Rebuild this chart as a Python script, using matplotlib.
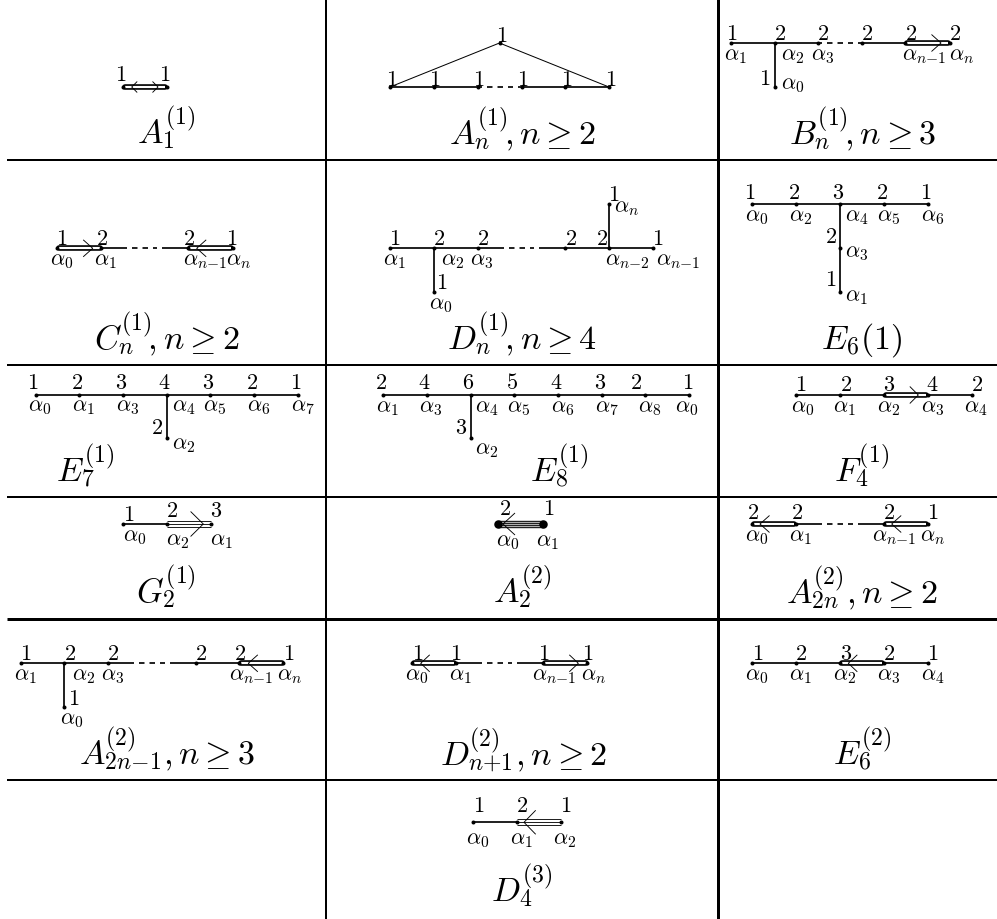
import matplotlib
matplotlib.use("Agg")
import matplotlib.pyplot as plt
from matplotlib import _mathtext

plt.rcParams['mathtext.fontset'] = 'cm'
plt.rcParams['font.family'] = ['DejaVu Sans']
# height of a lone superscript, as TeX sets it in these captions
_mathtext.ComputerModernFontConstants.sup1 = 0.64

PX = 0.72  # one pixel in points at dpi 100
MARK_SIZE = 16
CAPTION_SIZE = 24.5

# table rules
rule_rows = [160.5, 366, 497.7, 620, 781]
rule_row_widths = [2, 2, 2, 3, 2]
rule_cols = [326, 717.5]
rule_col_widths = [2, 3]

# every diagram: nodes (x, y), bonds (kind, i, j), arrows (tip x, tip y, direction, arm dx, arm dy),
# marks (text, x, y) above the nodes, roots (index, x, y) under the nodes
a11_nodes = [(123, 88), (167, 88)]
a11_bonds = [("double", 0, 1)]
a11_arrows = [(131.7, 88, -1, 5.5, 5.5), (158, 88, 1, 5.5, 5.5)]
a11_marks = [("1", 120.7, 74), ("1", 165, 74)]
a11_roots = []

an1_nodes = [(390, 88), (434, 88), (478, 88), (521.7, 88), (565.3, 88), (609, 88), (499.5, 44)]
an1_bonds = [("bold", 0, 1), ("bold", 1, 2), ("dash", 2, 3), ("bold", 3, 4), ("bold", 4, 5),
             ("thin", 0, 6), ("thin", 5, 6)]
an1_arrows = []
an1_marks = [("1", 392, 79), ("1", 435, 79), ("1", 479, 79), ("1", 523, 79), ("1", 567, 79),
             ("1", 611, 79), ("1", 502, 35)]
an1_roots = []

bn1_nodes = [(730.7, 44), (774.7, 44), (818.3, 44), (861.8, 44), (905.3, 44), (949.7, 44), (774.7, 88)]
bn1_bonds = [("bold", 0, 1), ("bold", 1, 2), ("dash", 2, 3), ("bold", 3, 4), ("double", 4, 5), ("bold", 1, 6)]
bn1_arrows = [(941, 44, 1, 9.5, 8.5)]
bn1_marks = [("1", 731.7, 33), ("2", 780, 33), ("2", 823, 33), ("2", 866.7, 33), ("2", 911, 33),
             ("2", 955, 33), ("1", 765, 78)]
bn1_roots = [("1", 735, 55), ("2", 793, 55), ("3", 822.7, 55), ("n-1", 924, 55), ("n", 962, 55), ("0", 793, 84)]

cn1_nodes = [(57.3, 249.3), (101.3, 249.3), (188.4, 249.3), (232.5, 249.3)]
cn1_bonds = [("double", 0, 1), ("broken", 1, 2), ("double", 2, 3)]
cn1_arrows = [(92.7, 249.3, 1, 9.5, 8.5), (196.7, 249.3, -1, 9.5, 8.5)]
cn1_marks = [("1", 62, 238), ("2", 101.7, 238), ("2", 189, 238), ("1", 232, 238)]
cn1_roots = [("0", 61.7, 260), ("1", 105, 260), ("n-1", 205, 260), ("n", 238.3, 260)]

dn1_nodes = [(390, 249.3), (434, 249.3), (478, 249.3), (565, 249.3), (609, 249.3), (653, 249.3),
             (434, 293), (609, 205)]
dn1_bonds = [("bold", 0, 1), ("bold", 1, 2), ("broken", 2, 3), ("bold", 3, 4), ("bold", 4, 5),
             ("bold", 1, 6), ("bold", 4, 7)]
dn1_arrows = []
dn1_marks = [("1", 395, 237.7), ("2", 439, 237.7), ("2", 483, 237.7), ("2", 570.7, 237.7), ("2", 602, 237.7),
             ("1", 658, 237.7), ("1", 614, 194), ("1", 442, 282)]
dn1_roots = [("1", 394, 260), ("2", 453, 260), ("3", 482, 260), ("n-2", 627, 260), ("n-1", 678, 260),
             ("n", 626.7, 207), ("0", 440.7, 304)]

e61_nodes = [(752.3, 205.3), (796, 205.3), (840, 205.3), (884, 205.3), (928, 205.3), (840, 249.3), (840, 293.3)]
e61_bonds = [("bold", 0, 1), ("bold", 1, 2), ("bold", 2, 3), ("bold", 3, 4), ("bold", 2, 5), ("bold", 5, 6)]
e61_arrows = []
e61_marks = [("1", 750, 191.7), ("2", 794.3, 191.7), ("3", 838.3, 191.7), ("2", 881.7, 191.7), ("1", 925.7, 191.7),
             ("2", 830.7, 236), ("1", 830.7, 279.3)]
e61_roots = [("0", 756.7, 216.7), ("2", 800.7, 216.7), ("4", 856.7, 216.7), ("5", 888.3, 216.7), ("6", 932.3, 216.7),
             ("3", 856.7, 252.7), ("1", 856.7, 296)]

e71_nodes = [(35.7, 396), (79, 396), (123, 396), (166.7, 396), (210.3, 396), (254, 396), (298.3, 396), (166.7, 439.3)]
e71_bonds = [("bold", 0, 1), ("bold", 1, 2), ("bold", 2, 3), ("bold", 3, 4), ("bold", 4, 5), ("bold", 5, 6), ("bold", 3, 7)]
e71_arrows = []
e71_marks = [("1", 32.7, 382.3), ("2", 77.3, 382.3), ("3", 120.7, 382.3), ("4", 164.7, 382.3), ("3", 208.3, 382.3),
             ("2", 252.3, 382.3), ("1", 296, 382.3), ("2", 157.3, 426.7)]
e71_roots = [("0", 40, 406.7), ("1", 83.3, 406.7), ("3", 127.3, 406.7), ("4", 183.3, 406.7), ("5", 215, 406.7),
             ("6", 258.3, 406.7), ("7", 302.7, 406.7), ("2", 183.3, 444)]

e81_nodes = [(382.7, 396), (426.7, 396), (470.7, 396), (514.3, 396), (558, 396), (601.7, 396), (645.3, 396),
             (689.3, 396), (470.7, 439)]
e81_bonds = [("bold", 0, 1), ("bold", 1, 2), ("bold", 2, 3), ("bold", 3, 4), ("bold", 4, 5), ("bold", 5, 6),
             ("bold", 6, 7), ("bold", 2, 8)]
e81_arrows = []
e81_marks = [("2", 381, 382.3), ("4", 424.3, 382.3), ("6", 468.3, 382.3), ("5", 512, 382.3), ("4", 556, 382.3),
             ("3", 599.7, 382.3), ("2", 636.3, 382.3), ("1", 687.7, 382.3), ("3", 461, 426.7)]
e81_roots = [("1", 387.3, 407), ("3", 431, 407), ("4", 486.7, 407), ("5", 518.7, 407), ("6", 562.7, 407),
             ("7", 606.7, 407), ("8", 650, 407), ("0", 686.7, 407), ("2", 486.7, 449.3)]

f41_nodes = [(796, 396), (840, 396), (884, 396), (928, 396), (972, 396)]
f41_bonds = [("bold", 0, 1), ("bold", 1, 2), ("double", 2, 3), ("bold", 3, 4)]
f41_arrows = [(918.3, 396, 1, 8.5, 8.5)]
f41_marks = [("1", 801, 384.3), ("2", 845.7, 384.3), ("3", 889.3, 384.3), ("4", 932.7, 384.3), ("2", 976.7, 384.3)]
f41_roots = [("0", 802.7, 407), ("1", 844.3, 407), ("2", 888.3, 407), ("3", 932.3, 407), ("4", 975.7, 407)]

g21_nodes = [(123, 525), (166.7, 525), (210.7, 525)]
g21_bonds = [("bold", 0, 1), ("triple", 1, 2)]
g21_arrows = [(203.3, 525, 1, 12.7, 12.5)]
g21_marks = [("1", 128.3, 514), ("2", 171.7, 510), ("3", 216, 510)]
g21_roots = [("0", 135, 536.7), ("2", 178, 540.7), ("1", 221.7, 540.7)]

a22_nodes = [(498, 525), (543, 525)]
a22_bonds = [("quad", 0, 1)]
a22_arrows = [(503, 525, -1, 12, 11)]
a22_marks = [("2", 505, 508), ("1", 548.7, 508)]
a22_roots = [("0", 508, 541), ("1", 547.7, 541)]

a2n2_nodes = [(752.3, 525), (796, 525), (884, 525), (928, 525)]
a2n2_bonds = [("double", 0, 1), ("broken", 1, 2), ("double", 2, 3)]
a2n2_arrows = [(760, 525, -1, 9.5, 8.5), (891.7, 525, -1, 9.5, 8.5)]
a2n2_marks = [("2", 753.3, 511.7), ("2", 796.7, 511.7), ("2", 889, 511.7), ("1", 932.3, 511.7)]
a2n2_roots = [("0", 756.7, 536), ("1", 800, 536), ("n-1", 894.3, 536), ("n", 933, 536)]

a2n12_nodes = [(20.7, 664.3), (64.3, 664.3), (108.3, 664.3), (195.7, 664.3), (239.3, 664.3), (283.3, 664.3), (64.3, 708.3)]
a2n12_bonds = [("bold", 0, 1), ("bold", 1, 2), ("broken", 2, 3), ("bold", 3, 4), ("double", 4, 5), ("bold", 1, 6)]
a2n12_arrows = [(248.3, 664.3, -1, 9.5, 8.5)]
a2n12_marks = [("1", 25.7, 653.3), ("2", 70, 653.3), ("2", 113.3, 653.3), ("2", 201, 653.3), ("2", 240, 653.3),
               ("1", 288.3, 653.3), ("1", 73.3, 698.3)]
a2n12_roots = [("1", 25, 675), ("2", 83.3, 675), ("3", 112.7, 675), ("n-1", 250.7, 675), ("n", 289.3, 675), ("0", 71.7, 719)]

dn12_nodes = [(412.3, 664.3), (456, 664.3), (543.3, 664.3), (587.3, 664.3)]
dn12_bonds = [("double", 0, 1), ("broken", 1, 2), ("double", 2, 3)]
dn12_arrows = [(420.7, 664.3, -1, 9, 8.5), (578.3, 664.3, 1, 9, 8.5)]
dn12_marks = [("1", 417.3, 653.3), ("1", 455.7, 653.3), ("1", 544, 653.3), ("1", 587.3, 653.3)]
dn12_roots = [("0", 416.7, 675), ("1", 460, 675), ("n-1", 554.3, 675), ("n", 593.3, 675)]

e62_nodes = [(752.3, 664.3), (796, 664.3), (840, 664.3), (884, 664.3), (928, 664.3)]
e62_bonds = [("bold", 0, 1), ("bold", 1, 2), ("double", 2, 3), ("bold", 3, 4)]
e62_arrows = [(848.3, 664.3, -1, 9, 8.5)]
e62_marks = [("1", 757.7, 653.3), ("2", 801, 653.3), ("3", 845.7, 653.3), ("2", 889, 653.3), ("1", 932.3, 653.3)]
e62_roots = [("0", 756.7, 675), ("1", 800, 675), ("2", 845, 675), ("3", 888.3, 675), ("4", 932.3, 675)]

d43_nodes = [(472.7, 823.3), (516.7, 823.3), (560.7, 823.3)]
d43_bonds = [("bold", 0, 1), ("triple", 1, 2)]
d43_arrows = [(524, 823.3, -1, 11.7, 12)]
d43_marks = [("1", 478.3, 805), ("2", 521.7, 805), ("1", 565.7, 805)]
d43_roots = [("0", 477.7, 839), ("1", 521, 839), ("2", 565, 839)]

# captions: text, centre x, baseline y; the hspace puts the superscript back over the subscript
captions = [
    (r"$A_1\hspace{-0.42}{}^{(1)}$", 166, 144),
    (r"$A_n\hspace{-0.5}{}^{(1)}\hspace{-0.2}, n \geq 2$", 522, 144),
    (r"$B_n\hspace{-0.5}{}^{(1)}\hspace{-0.2}, n \geq 3$", 862.5, 144),
    (r"$C_n\hspace{-0.5}{}^{(1)}\hspace{-0.2}, n \geq 2$", 166.7, 349),
    (r"$D_n\hspace{-0.5}{}^{(1)}\hspace{-0.2}, n \geq 4$", 522, 349),
    (r"$E_6(1)$", 861.7, 349),
    (r"$E_7\hspace{-0.42}{}^{(1)}$", 85, 481.7),
    (r"$E_8\hspace{-0.42}{}^{(1)}$", 559, 481.7),
    (r"$F_4\hspace{-0.42}{}^{(1)}$", 861.7, 481.7),
    (r"$G_2\hspace{-0.42}{}^{(1)}$", 166, 603),
    (r"$A_2\hspace{-0.42}{}^{(2)}$", 522, 603),
    (r"$A_{2n}\hspace{-0.93}{}^{(2)}, n \geq 2$", 862, 603),
    (r"$A_{2n{-}1}\hspace{-2.0}{}^{(2)}\hspace{0.85}, n \geq 3$", 166.7, 764),
    (r"$D_{n{+}1}\hspace{-1.58}{}^{(2)}\hspace{0.45}, n \geq 2$", 523, 764),
    (r"$E_6\hspace{-0.42}{}^{(2)}$", 861.7, 764),
    (r"$D_4\hspace{-0.42}{}^{(3)}$", 522, 902),
]

diagrams = [
    (a11_nodes, a11_bonds, a11_arrows, a11_marks, a11_roots),
    (an1_nodes, an1_bonds, an1_arrows, an1_marks, an1_roots),
    (bn1_nodes, bn1_bonds, bn1_arrows, bn1_marks, bn1_roots),
    (cn1_nodes, cn1_bonds, cn1_arrows, cn1_marks, cn1_roots),
    (dn1_nodes, dn1_bonds, dn1_arrows, dn1_marks, dn1_roots),
    (e61_nodes, e61_bonds, e61_arrows, e61_marks, e61_roots),
    (e71_nodes, e71_bonds, e71_arrows, e71_marks, e71_roots),
    (e81_nodes, e81_bonds, e81_arrows, e81_marks, e81_roots),
    (f41_nodes, f41_bonds, f41_arrows, f41_marks, f41_roots),
    (g21_nodes, g21_bonds, g21_arrows, g21_marks, g21_roots),
    (a22_nodes, a22_bonds, a22_arrows, a22_marks, a22_roots),
    (a2n2_nodes, a2n2_bonds, a2n2_arrows, a2n2_marks, a2n2_roots),
    (a2n12_nodes, a2n12_bonds, a2n12_arrows, a2n12_marks, a2n12_roots),
    (dn12_nodes, dn12_bonds, dn12_arrows, dn12_marks, dn12_roots),
    (e62_nodes, e62_bonds, e62_arrows, e62_marks, e62_roots),
    (d43_nodes, d43_bonds, d43_arrows, d43_marks, d43_roots),
]

fig = plt.figure(figsize=(9.97, 9.20), dpi=100)
ax = fig.add_axes([0, 0, 1, 1])
ax.set_xlim(0, 997)
ax.set_ylim(920, 0)
ax.axis("off")


def seg(xs, ys, width, color="k", cap="butt", z=2, **kw):
    ax.plot(xs, ys, color=color, lw=width * PX, solid_capstyle=cap, zorder=z, **kw)


def draw_bond(kind, p, q):
    xs, ys = [p[0], q[0]], [p[1], q[1]]
    if kind == "bold":
        seg(xs, ys, 1.7)
    elif kind == "thin":
        seg(xs, ys, 1.0)
    elif kind == "double":
        # pulled in a little so the round caps end about on the nodes
        seg([p[0] + 1.6, q[0] - 1.6], ys, 5.6, cap="round")
        seg([p[0] + 1.6, q[0] - 1.6], ys, 2.2, color="w", z=3)
    elif kind == "triple":
        for off in (-3, 0, 3):
            seg(xs, [p[1] + off, q[1] + off], 1.0, color="#222222")
    elif kind == "quad":
        for off in (-3, -1, 1, 3):
            seg(xs, [p[1] + off, q[1] + off], 1.4, color="#222222")
    else:
        # dash runs over the whole span, broken keeps a solid stub at both ends
        stub = 4 if kind == "dash" else 26
        seg([p[0], p[0] + stub], ys, 1.7)
        seg([q[0] - stub, q[0]], ys, 1.7)
        ax.plot([p[0] + stub + 5, q[0] - stub - 5], ys, color="k", lw=1.7 * PX, zorder=2,
                linestyle=(0, (5.5 / 1.7, 5 / 1.7)), dash_capstyle="butt")


def draw_diagram(nodes, bonds, arrows, marks, roots):
    big = any(b[0] == "quad" for b in bonds)
    for kind, i, j in bonds:
        draw_bond(kind, nodes[i], nodes[j])
    ax.plot([n[0] for n in nodes], [n[1] for n in nodes], "o", color="k", zorder=4, mew=0,
            ms=(8.5 if big else 4) * PX)
    for tx, ty, way, dx, dy in arrows:
        seg([tx - way * dx, tx, tx - way * dx], [ty - dy, ty, ty + dy], 0.9, z=5)
    for label, x, y in marks:
        ax.text(x, y + 7, f"${label}$", fontsize=MARK_SIZE, ha="center", va="baseline", zorder=6)
    for label, x, y in roots:
        sub = label.replace("-", "{-}")
        ax.text(x, y + 5, rf"$\alpha_{{{sub}}}$", fontsize=MARK_SIZE, ha="center", va="baseline", zorder=6)


for y, w in zip(rule_rows, rule_row_widths):
    ax.plot([7, 997], [y, y], color="k", lw=w * PX, solid_capstyle="butt")
for x, w in zip(rule_cols, rule_col_widths):
    ax.plot([x, x], [0, 920], color="k", lw=w * PX, solid_capstyle="butt")

for d in diagrams:
    draw_diagram(*d)

for text, x, y in captions:
    ax.text(x, y, text, fontsize=CAPTION_SIZE, ha="center", va="baseline")

fig.savefig("out.png", dpi=100)
